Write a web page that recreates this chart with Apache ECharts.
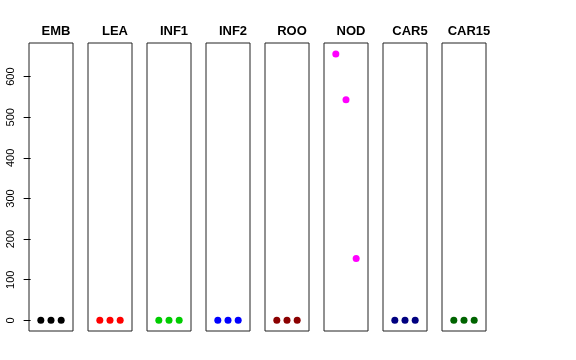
<!DOCTYPE html>
<html><head><meta charset="utf-8">
<script src="https://cdn.jsdelivr.net/npm/echarts@6/dist/echarts.min.js"></script>
<style>html,body{margin:0;padding:0;background:#fff}#c{width:576px;height:360px}</style>
</head><body><div id="c"></div>
<script>
const panels = ['EMB','LEA','INF1','INF2','ROO','NOD','CAR5','CAR15'];
const colors = ['#000000','#FF0000','#00CD00','#0000FF','#8B0000','#FF00FF','#000080','#006400'];
const xPos = [1,2,3];
const values = [
  [0,0,0],
  [0,0,0],
  [0,0,0],
  [0,0,0],
  [0,0,0],
  [656,543,152],
  [0,0,0],
  [0,0,0]
];
const yTicks = [0,100,200,300,400,500,600];

const grids=[], xAxes=[], yAxes=[], series=[], titles=[];
panels.forEach((name,i)=>{
  const left = 29 + i*59;
  grids.push({left:left, top:43, width:44, height:288, show:true, borderColor:'#222', borderWidth:1, backgroundColor:'transparent'});
  xAxes.push({type:'value', gridIndex:i, min:-0.16, max:4.16, show:false});
  yAxes.push({type:'value', gridIndex:i, min:-26.3, max:682.8,
    show: i===0, interval:100,
    axisLine:{show:false}, splitLine:{show:false},
    axisTick:{show:true, length:7, lineStyle:{color:'#000'}, customValues: yTicks},
    axisLabel:{show:true, rotate:90, margin:13, fontSize:11, color:'#000', fontFamily:'Liberation Sans, Arial, sans-serif', customValues: yTicks}
  });
  series.push({type:'scatter', xAxisIndex:i, yAxisIndex:i, symbolSize:7, itemStyle:{color:colors[i], opacity:1},
    data: xPos.map((x,j)=>[x, values[i][j]])});
  titles.push({text:name, left:left+22, top:20, textAlign:'center',
    textStyle:{fontSize:13, fontWeight:'bold', color:'#000', fontFamily:'Liberation Sans, Arial, sans-serif'}});
});
const chart = echarts.init(document.getElementById('c'), null, {renderer:'canvas'});
chart.setOption({animation:false, title:titles, grid:grids, xAxis:xAxes, yAxis:yAxes, series:series});
</script></body></html>
